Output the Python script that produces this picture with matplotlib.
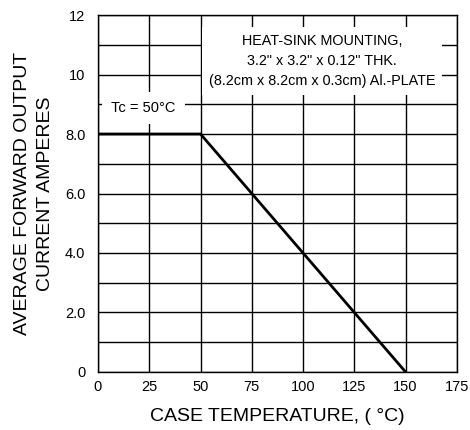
# derating curve: forward current vs case temperature
import matplotlib
matplotlib.use('Agg')
import matplotlib.pyplot as plt
import numpy as np

plt.rcParams['font.family'] = ['Liberation Sans', 'DejaVu Sans']

# data
temp = [0, 50, 150]
current = [8.0, 8.0, 0.0]
x_ticks = [0, 25, 50, 75, 100, 125, 150, 175]
y_ticks = [0, 2.0, 4.0, 6.0, 8.0, 10, 12]
y_labels = ['0', '2.0', '4.0', '6.0', '8.0', '10', '12']

fig = plt.figure(figsize=(4.7, 4.3), dpi=100)
ax = fig.add_axes([0.2085, 0.135, 0.7635, 0.83])

ax.plot(temp, current, color='black', lw=2.0, zorder=3, solid_capstyle='butt')

ax.set_xlim(0, 175)
ax.set_ylim(0, 12)
ax.set_xticks(x_ticks)
ax.set_yticks(y_ticks)
ax.set_yticklabels(y_labels)
ax.set_yticks(np.arange(0, 13, 1), minor=True)
ax.grid(True, which='both', color='black', lw=1.0)
ax.tick_params(which='both', length=0, labelsize=10.5)
ax.tick_params(axis='y', pad=9)
ax.tick_params(axis='x', pad=6)
for s in ax.spines.values():
    s.set_linewidth(1.0)

ax.text(109.2, 10.44, 'HEAT-SINK MOUNTING,\n3.2" x 3.2" x 0.12" THK.\n(8.2cm x 8.2cm x 0.3cm) Al.-PLATE',
        ha='center', va='center', fontsize=10.4, linespacing=1.55,
        bbox=dict(facecolor='white', edgecolor='none', pad=5), zorder=4)
ax.text(22.2, 8.87, 'Tc = 50°C', ha='center', va='center', fontsize=10.5,
        bbox=dict(facecolor='white', edgecolor='none', pad=6.5), zorder=4)

ax.set_xlabel('CASE TEMPERATURE, ( °C)', fontsize=14, labelpad=10)
ax.set_ylabel('AVERAGE FORWARD OUTPUT\nCURRENT AMPERES', fontsize=14, labelpad=8,
              linespacing=1.45)

fig.savefig('out.png', dpi=100)
